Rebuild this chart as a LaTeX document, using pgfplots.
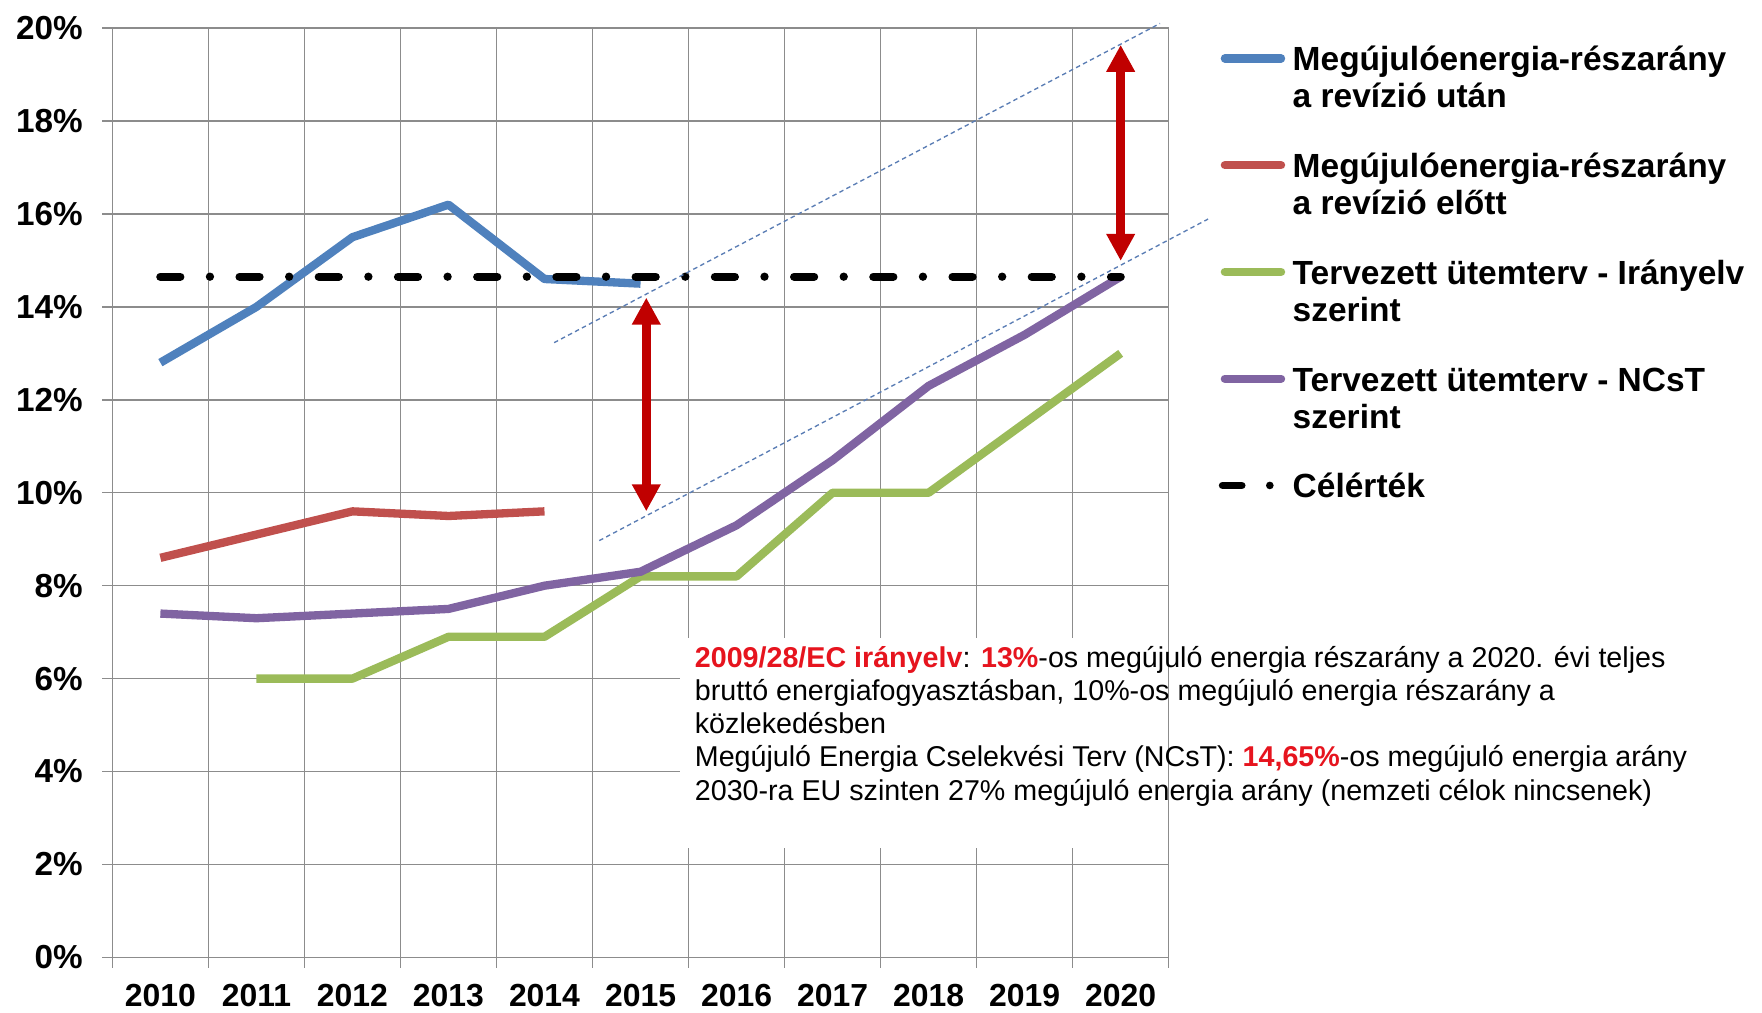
\documentclass[border=0pt]{standalone}
\usepackage{fontspec}
\setmainfont{Liberation Sans}
\usepackage{pgfplots}
\pgfplotsset{compat=1.18}
\usetikzlibrary{arrows.meta}
\definecolor{cblue}{RGB}{79,129,189}
\definecolor{cred}{RGB}{192,80,77}
\definecolor{cgreen}{RGB}{155,187,89}
\definecolor{cpurple}{RGB}{128,100,162}
\definecolor{gridgray}{RGB}{140,140,140}
\definecolor{arrowred}{RGB}{192,0,0}
\definecolor{txtred}{RGB}{230,20,30}
\definecolor{dotblue}{RGB}{90,125,180}
\begin{document}
\begin{tikzpicture}
\useasboundingbox (0pt,0pt) rectangle (784pt,450.5pt);
\begin{axis}[
  at={(50pt,24.5pt)}, anchor=south west,
  scale only axis, width=470pt, height=413.5pt,
  xmin=2009.5, xmax=2020.5, ymin=0, ymax=20,
  clip=false,
  axis line style={draw=gridgray, line width=0.65pt},
  grid style={draw=gridgray, line width=0.65pt},
  xtick={2009.5,2010.5,2011.5,2012.5,2013.5,2014.5,2015.5,2016.5,2017.5,2018.5,2019.5,2020.5},
  xticklabels={},
  xmajorgrids, ymajorgrids,
  xtick pos=bottom, ytick pos=left,
  ytick={0,2,...,20},
  yticklabels={0\%,2\%,4\%,6\%,8\%,10\%,12\%,14\%,16\%,18\%,20\%},
  tick align=outside, major tick length=4.5pt,
  tick style={draw=gridgray, line width=0.65pt},
  extra x ticks={2010,2011,2012,2013,2014,2015,2016,2017,2018,2019,2020},
  extra x tick labels={2010,2011,2012,2013,2014,2015,2016,2017,2018,2019,2020},
  extra x tick style={major tick length=0pt, grid=none},
  yticklabel style={font=\bfseries\fontsize{14.8}{15}\selectfont, anchor=east, inner sep=0pt, xshift=-8.5pt},
  xticklabel style={font=\bfseries\fontsize{14.2}{15}\selectfont, anchor=base, inner sep=0pt, yshift=-22pt},
]
\addplot[cblue, line width=3.7pt, line join=round] coordinates {(2010,12.8)(2011,14.0)(2012,15.5)(2013,16.2)(2014,14.6)(2015,14.5)};
\addplot[cred, line width=3.7pt, line join=round] coordinates {(2010,8.6)(2011,9.1)(2012,9.6)(2013,9.5)(2014,9.6)};
\addplot[cgreen, line width=3.7pt, line join=round] coordinates {(2011,6.0)(2012,6.0)(2013,6.9)(2014,6.9)(2015,8.2)(2016,8.2)(2017,10.0)(2018,10.0)(2019,11.5)(2020,13.0)};
\addplot[cpurple, line width=3.7pt, line join=round] coordinates {(2010,7.4)(2011,7.3)(2012,7.4)(2013,7.5)(2014,8.0)(2015,8.3)(2016,9.3)(2017,10.7)(2018,12.3)(2019,13.4)(2020,14.65)};
\addplot[black, line width=3.7pt, line cap=round, dash pattern=on 8.85pt off 13.2pt on 0pt off 13.2pt] coordinates {(2010,14.65)(2011,14.65)(2012,14.65)(2013,14.65)(2014,14.65)(2015,14.65)(2016,14.65)(2017,14.65)(2018,14.65)(2019,14.65)(2020,14.65)};
\addplot[dotblue, line width=0.6pt, dash pattern=on 2pt off 1.5pt] coordinates {(2014.10,13.23)(2020.41,20.10)};
\addplot[dotblue, line width=0.6pt, dash pattern=on 2pt off 1.5pt] coordinates {(2014.57,8.97)(2020.91,15.89)};
\addplot[arrowred, line width=4pt, {Triangle[width=12pt,length=12pt]}-{Triangle[width=12pt,length=12pt]}] coordinates {(2015.06,14.2)(2015.06,9.6)};
\addplot[arrowred, line width=4pt, {Triangle[width=12pt,length=12pt]}-{Triangle[width=12pt,length=12pt]}] coordinates {(2020.0,19.64)(2020.0,14.99)};
\end{axis}
\begin{scope}[x=0.5pt,y=0.5pt]
% text box
\fill[white] (605,146) rectangle (1039.4,333);
\begin{scope}[every node/.style={anchor=base west, inner sep=0pt, font=\fontsize{12.75}{15}\selectfont}]
\node at (618,307) {{\color{txtred}\bfseries 2009/28/EC irányelv}: {\color{txtred}\bfseries 13\%}-os megújuló energia részarány a 2020. évi teljes};
\node at (618,277.5) {bruttó energiafogyasztásban, 10\%-os megújuló energia részarány a};
\node at (618,248) {közlekedésben};
\node at (618,218.5) {Megújuló Energia Cselekvési Terv (NCsT): {\color{txtred}\bfseries 14,65\%}-os megújuló energia arány};
\node at (618,189) {2030-ra EU szinten 27\% megújuló energia arány (nemzeti célok nincsenek)};
\end{scope}
% legend
\begin{scope}[every node/.style={anchor=base west, inner sep=0pt, font=\bfseries\fontsize{14.9}{15}\selectfont}]
\draw[cblue, line width=3.7pt, line cap=round] (1090,849) -- (1140,849);
\node at (1150,838) {Megújulóenergia-részarány};
\node at (1150,805) {a revízió után};
\draw[cred, line width=3.7pt, line cap=round] (1090,754) -- (1140,754);
\node at (1150,743) {Megújulóenergia-részarány};
\node at (1150,710) {a revízió előtt};
\draw[cgreen, line width=3.7pt, line cap=round] (1090,659) -- (1140,659);
\node at (1150,648) {Tervezett ütemterv - Irányelv};
\node at (1150,615) {szerint};
\draw[cpurple, line width=3.7pt, line cap=round] (1090,564) -- (1140,564);
\node at (1150,553) {Tervezett ütemterv - NCsT};
\node at (1150,520) {szerint};
\draw[black, line width=3.4pt, line cap=round] (1088,469) -- (1105,469);
\fill[black] (1130,469) circle[radius=1.7pt];
\node at (1150,458) {Célérték};
\end{scope}
\end{scope}
\end{tikzpicture}
\end{document}
